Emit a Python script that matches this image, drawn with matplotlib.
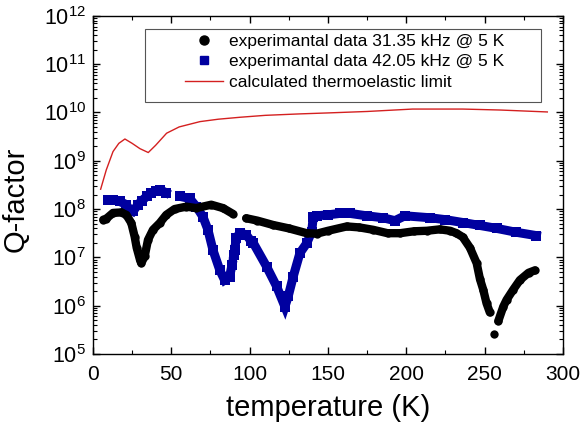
import numpy as np
import matplotlib
matplotlib.use("Agg")
import matplotlib.pyplot as plt
from matplotlib.lines import Line2D
from matplotlib.patches import Rectangle
from matplotlib.ticker import LogLocator, MultipleLocator, NullFormatter

plt.rcParams['font.family'] = ['Liberation Sans', 'DejaVu Sans']
plt.rcParams['mathtext.fontset'] = 'custom'
plt.rcParams['mathtext.rm'] = 'Liberation Sans'

nan = np.nan

# 31.35 kHz data (log10 Q); NaN marks gaps in the measured series
T_black = [6.6, 8.5, 12.8, 18, 21.3, 24.5, 26.6, 27.9, 30.0, 30.8, 33, 35.1, 38.3, 42.6,
           46.8, 52.1, 59.6, 65.9, 75.5, 83, 89.3, nan,
           97.8, 105, 115, 125, 136.4, 142.8, 150, 162, 170, 178.9, 188, 196, 205, 213,
           221.4, 228, 232, 236, 240.6, 244.9, 247, 249.1, 251.2, 253.3, nan,
           256.1, nan,
           258.7, 261.9, 264, 268.2, 272.5, 278, 282]
logQ_black = [7.78, 7.80, 7.92, 7.93, 7.88, 7.71, 7.43, 7.20, 6.95, 6.88, 7.02, 7.36, 7.57, 7.71,
              7.88, 8.00, 8.05, 8.02, 8.09, 8.02, 7.90, nan,
              7.81, 7.76, 7.67, 7.60, 7.50, 7.49, 7.55, 7.64, 7.62, 7.57, 7.50, 7.50, 7.54, 7.55,
              7.58, 7.55, 7.50, 7.42, 7.20, 6.88, 6.55, 6.33, 6.05, 5.86, nan,
              5.41, nan,
              5.68, 5.98, 6.12, 6.33, 6.53, 6.68, 6.73]

# 42.05 kHz data (log10 Q)
T_blue = [9.8, 13, 17, 21.3, 23.6, 25.5, 28.7, 31, 34.3, 37, 40.4, 42.8, 46.5, nan,
          55.8, 61.7, 66, 70.2, 73.4, 76.6, 80.9, 84, 87.2, 88.8, nan,
          89.9, 90.4, 91.5, 93.6, 97.8, 101, 102.3, 110.8, 117.2, 122.5, 124.6, 127.8,
          132.1, 136.4, 139.6, 140.6, 142.8, 150, 157.6, 164, 174.7, 185, 192.7, 199.1,
          215, 225, 236.3, 247, 257.6, 270, 283]
logQ_blue = [8.19, 8.19, 8.16, 8.09, 7.98, 7.95, 8.09, 8.17, 8.26, 8.33, 8.38, 8.40, 8.34, nan,
             8.26, 8.22, 8.05, 7.84, 7.57, 7.15, 6.74, 6.53, 6.60, 6.85, nan,
             7.05, 7.15, 7.40, 7.50, 7.47, 7.33, 7.30, 6.81, 6.40, 5.98, 6.19, 6.60,
             7.09, 7.29, 7.53, 7.84, 7.86, 7.88, 7.91, 7.91, 7.86, 7.82, 7.76, 7.86,
             7.82, 7.78, 7.72, 7.66, 7.60, 7.52, 7.45]

# calculated thermoelastic limit (log10 Q)
T_red = [4.9, 8.5, 12.8, 16.5, 20.4, 25, 30, 35.3, 40, 47, 55, 68.3, 80, 93.8, 110, 132,
         150, 175, 204, 220, 236, 260, 290]
logQ_red = [8.41, 8.81, 9.19, 9.36, 9.45, 9.36, 9.25, 9.17, 9.32, 9.57, 9.70, 9.81, 9.86, 9.90,
            9.94, 9.97, 9.99, 10.02, 10.07, 10.07, 10.07, 10.05, 10.01]

labels = ["experimantal data 31.35 kHz @ 5 K",
          "experimantal data 42.05 kHz @ 5 K",
          "calculated thermoelastic limit"]

black = '#000000'
blue = '#0000a0'
red = '#d42020'

fig = plt.figure(figsize=(5.81, 4.28), dpi=100)
ax = fig.add_axes([0.160, 0.173, 0.809, 0.790])

ax.plot(T_red, 10 ** np.array(logQ_red), color=red, lw=1.0)
ax.plot(T_blue, 10 ** np.array(logQ_blue), color=blue, lw=6.5,
        solid_capstyle='projecting', solid_joinstyle='miter',
        marker='s', markersize=6.5, markeredgewidth=0)
ax.plot(T_black, 10 ** np.array(logQ_black), color=black, lw=6.0,
        solid_capstyle='round', solid_joinstyle='round',
        marker='o', markersize=6.0, markeredgewidth=0)

ax.set_yscale('log')
ax.set_xlim(0, 300)
ax.set_ylim(1e5, 1e12)
ax.xaxis.set_major_locator(MultipleLocator(50))
ax.xaxis.set_minor_locator(MultipleLocator(25))
ax.yaxis.set_major_locator(LogLocator(base=10, numticks=20))
ax.yaxis.set_minor_locator(LogLocator(base=10, subs=np.arange(2, 10), numticks=20))
ax.yaxis.set_minor_formatter(NullFormatter())
ax.tick_params(which='both', direction='in', top=True, right=True)
ax.tick_params(axis='x', pad=8, labelsize=15)
ax.tick_params(axis='y', pad=5, labelsize=15.5)
ax.tick_params(which='major', length=5, width=1)
ax.tick_params(which='minor', length=3, width=0.8)
for s in ax.spines.values():
    s.set_linewidth(1.0)

ax.set_xlabel('temperature (K)', fontsize=21)
ax.set_ylabel('Q-factor', fontsize=21)
ax.xaxis.set_label_coords(0.5, -0.118)
ax.yaxis.set_label_coords(-0.134, 0.456)

# legend frame
ax.add_patch(Rectangle((0.1106, 0.7465), 0.9532 - 0.1106, 0.9615 - 0.7465,
                       transform=ax.transAxes, facecolor='white', edgecolor='#555555',
                       lw=0.8, zorder=4))
handles = [Line2D([], [], color=black, marker='o', ls='none', markersize=6.5),
           Line2D([], [], color=blue, marker='s', ls='none', markersize=5.5),
           Line2D([], [], color=red, lw=1.0)]
leg = ax.legend(handles, labels, loc='upper left', bbox_to_anchor=(0.1957, 0.947),
                borderaxespad=0, borderpad=0, fontsize=12.5, frameon=False,
                handlelength=2.2, labelspacing=0.30, handletextpad=0.35)
leg.set_zorder(5)

fig.savefig('out.png', dpi=100)
